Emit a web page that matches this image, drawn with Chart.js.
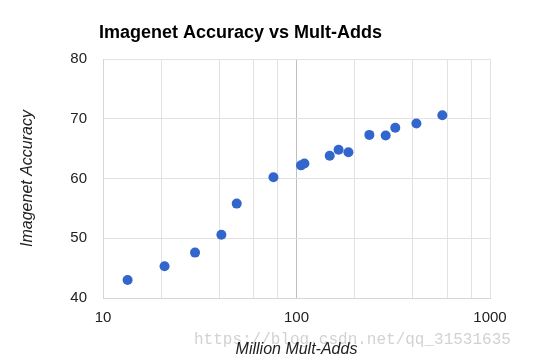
<!DOCTYPE html>
<html>
<head>
<meta charset="utf-8">
<script src="https://cdn.jsdelivr.net/npm/chart.js@4/dist/chart.umd.min.js"></script>
<style>
  html, body { margin: 0; padding: 0; background: #ffffff; }
  #wrap { width: 546px; height: 360px; position: relative; }
</style>
</head>
<body>
<div id="wrap"><canvas id="c" width="546" height="360"></canvas></div>
<script>
// ---- data ----
const chartTitle = "Imagenet Accuracy vs Mult-Adds";
const xAxisTitle = "Million Mult-Adds";
const yAxisTitle = "Imagenet Accuracy";
const watermark = "https://blog.csdn.net/qq_31531635";
const multAdds = [13.4, 20.8, 29.9, 40.9, 49.1, 76, 105.5, 109.9, 148.5, 165, 185.5, 238, 289, 324, 416.5, 567];
const accuracy = [43.0, 45.3, 47.6, 50.6, 55.8, 60.2, 62.2, 62.5, 63.8, 64.8, 64.4, 67.3, 67.2, 68.5, 69.2, 70.6];
const xGridValues = [10, 20, 40, 60, 80, 100, 200, 400, 600, 800, 1000];
const xLabelValues = [10, 100, 1000];
const yTickValues = [40, 50, 60, 70, 80];

const points = multAdds.map((x, i) => ({ x: x, y: accuracy[i] }));

const decor = {
  id: 'decor',
  beforeDraw(chart) {
    const ctx = chart.ctx;
    ctx.save();
    ctx.fillStyle = '#ffffff';
    ctx.fillRect(0, 0, chart.width, chart.height);
    ctx.font = '16px "Liberation Mono", monospace';
    ctx.fillStyle = '#d2d2d2';
    ctx.textBaseline = 'middle';
    ctx.textAlign = 'left';
    ctx.fillText(watermark, 194, 340);
    ctx.restore();
  },
  afterDraw(chart) {
    const ctx = chart.ctx;
    ctx.save();
    ctx.font = 'bold 18px "Liberation Sans", Arial, sans-serif';
    ctx.fillStyle = '#000000';
    ctx.textAlign = 'left';
    ctx.textBaseline = 'alphabetic';
    ctx.fillText(chartTitle, chart.chartArea.left - 4, 38);
    ctx.restore();
  }
};

new Chart(document.getElementById('c'), {
  type: 'scatter',
  data: {
    datasets: [{
      data: points,
      backgroundColor: '#3366cc',
      borderColor: '#3366cc',
      borderWidth: 0,
      pointRadius: 5,
      pointHoverRadius: 5
    }]
  },
  options: {
    responsive: false,
    animation: false,
    devicePixelRatio: 1,
    layout: { padding: { left: 0, right: 56, top: 59, bottom: 0 } },
    plugins: {
      legend: { display: false },
      tooltip: { enabled: false },
      title: { display: false }
    },
    scales: {
      x: {
        type: 'logarithmic',
        min: 10,
        max: 1000,
        afterBuildTicks: (scale) => { scale.ticks = xGridValues.map(v => ({ value: v })); },
        afterFit: (scale) => { scale.height = 62; },
        ticks: {
          autoSkip: false,
          maxRotation: 0,
          padding: 11,
          color: '#222222',
          font: { family: '"Liberation Sans", Arial, sans-serif', size: 15 },
          callback: (v) => xLabelValues.includes(v) ? String(v) : ''
        },
        grid: {
          drawTicks: false,
          color: (ctx) => (ctx.tick && ctx.tick.value === 100) ? '#bfbfbf' : '#e2e2e2',
          lineWidth: 1
        },
        border: { display: true, color: '#d6d6d6' },
        title: {
          display: true,
          text: xAxisTitle,
          color: '#222222',
          font: { family: '"Liberation Sans", Arial, sans-serif', size: 16, style: 'italic' },
          padding: { top: 0, bottom: 1 }
        }
      },
      y: {
        type: 'linear',
        min: 40,
        max: 80,
        afterBuildTicks: (scale) => { scale.ticks = yTickValues.map(v => ({ value: v })); },
        afterFit: (scale) => { scale.width = 103; },
        ticks: {
          padding: 16,
          color: '#222222',
          font: { family: '"Liberation Sans", Arial, sans-serif', size: 15 }
        },
        grid: {
          drawTicks: false,
          color: '#e2e2e2',
          lineWidth: 1
        },
        border: { display: true, color: '#d6d6d6' },
        title: {
          display: true,
          text: yAxisTitle,
          color: '#222222',
          font: { family: '"Liberation Sans", Arial, sans-serif', size: 16, style: 'italic' },
          padding: { top: 18, bottom: 0 }
        }
      }
    }
  },
  plugins: [decor]
});
</script>
</body>
</html>
